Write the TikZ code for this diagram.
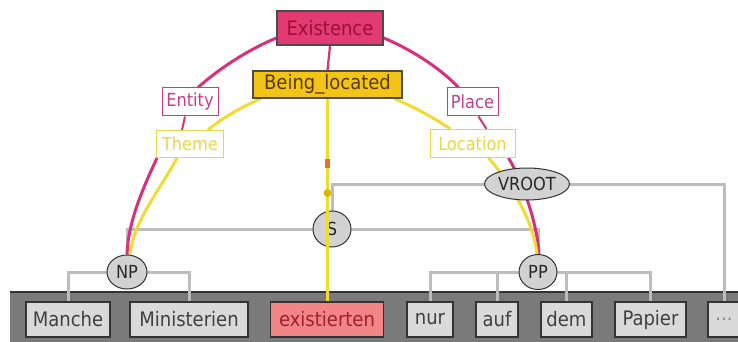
\documentclass[tikz,border=0pt]{standalone}
\usepackage{fontspec}
\setmainfont{DejaVu Sans Condensed}
\usetikzlibrary{shapes.geometric,calc}
\pgfdeclarelayer{bg}
\pgfdeclarelayer{lines}
\pgfsetlayers{bg,lines,main}
\definecolor{pinkc}{HTML}{D8307A}
\definecolor{yelc}{HTML}{F0DC30}
\definecolor{treec}{HTML}{BDBDBD}
\definecolor{bandc}{HTML}{7A7A7A}
\definecolor{wordfill}{HTML}{DADADA}
\definecolor{exfill}{HTML}{E33A73}
\definecolor{extext}{HTML}{9A1038}
\definecolor{blfill}{HTML}{F2C417}
\definecolor{bltext}{HTML}{5A3A00}
\definecolor{rolepink}{HTML}{C83C8C}
\definecolor{roleyel}{HTML}{E6D84A}
\definecolor{catfill}{HTML}{D2D2D2}
\definecolor{verbfill}{HTML}{F28585}
\definecolor{verbtext}{HTML}{A02030}
\definecolor{markor}{HTML}{E8702C}
\definecolor{markye}{HTML}{D8B800}
\tikzset{
  word/.style={draw=black!80, line width=1.3pt, fill=wordfill, text=black!75,
    minimum height=35pt, inner sep=0pt, font=\fontsize{20}{21}\selectfont},
  verb/.style={word, fill=verbfill, text=verbtext},
  framebox/.style={draw=black!70, line width=1.2pt, inner sep=0pt,
    font=\fontsize{20}{21}\selectfont},
  rolebox/.style={draw, fill=white, line width=1pt, inner sep=0pt,
    font=\fontsize{18}{19}\selectfont},
  pinkrole/.style={rolebox, draw=rolepink, text=rolepink},
  yelrole/.style={rolebox, draw=roleyel, text=roleyel},
  cat/.style={ellipse, draw=black!80, line width=1pt, fill=catfill, text=black!85,
    inner sep=0pt, font=\fontsize{18}{19}\selectfont},
  tree/.style={draw=treec, line width=3pt},
  pinkline/.style={draw=pinkc, line width=3pt},
  yelline/.style={draw=yelc, line width=3pt},
  markbox/.style={fill=markor, minimum width=5pt, minimum height=9pt, inner sep=0pt},
  markdot/.style={circle, fill=markye, minimum size=8pt, inner sep=0pt},
}
\begin{document}
\begin{tikzpicture}[x=1pt,y=-1pt]
\useasboundingbox (0,0) rectangle (738,342);
% background and band of words
\begin{pgfonlayer}{bg}
\fill[white] (0,0) rectangle (738,342);
\fill[bandc] (10,292) rectangle (745,345);
\draw[black!80, line width=2pt] (10,292) -- (745,292);
\end{pgfonlayer}
% words
\node[word, minimum width=84pt]  (w1) at (68,319.5)  {Manche};
\node[word, minimum width=118pt] (w2) at (189,319.5) {Ministerien};
\node[verb, minimum width=113pt] (w3) at (327,319.5) {existierten};
\node[word, minimum width=46pt]  (w4) at (430,319.5) {nur};
\node[word, minimum width=42pt]  (w5) at (497,319.5) {auf};
\node[word, minimum width=51pt]  (w6) at (566.5,319.5) {dem};
\node[word, minimum width=71pt]  (w7) at (650.5,319.5) {Papier};
\node[word, minimum width=32pt, text=black!45] (w8) at (724,319.5) {...};
% syntactic categories
\node[cat, minimum width=40pt, minimum height=34pt] (NP) at (127,272) {NP};
\node[cat, minimum width=38pt, minimum height=35pt] (PP) at (538,272) {PP};
\node[cat, minimum width=38pt, minimum height=36pt] (S) at (332,229) {S};
\node[cat, minimum width=85pt, minimum height=32pt] (VR) at (527,184) {VROOT};
% frames and roles
\node[framebox, fill=exfill, text=extext, minimum width=106pt, minimum height=34pt] (Ex) at (330,28) {Existence};
\node[framebox, fill=blfill, text=bltext, minimum width=149pt, minimum height=27pt] (BL) at (327.5,84.5) {Being\_located};
\node[pinkrole, minimum width=56pt, minimum height=28pt] (En) at (190,102) {Entity};
\node[pinkrole, minimum width=51pt, minimum height=28pt] (Pl) at (472.5,102) {Place};
\node[yelrole, minimum width=67pt, minimum height=27pt] (Th) at (190,144) {Theme};
\node[yelrole, minimum width=85pt, minimum height=28pt] (Lo) at (472.5,143.5) {Location};
% tree edges
\begin{pgfonlayer}{bg}
\draw[tree] (NP.center) -| (w1.north);
\draw[tree] (NP.center) -| (w2.north);
\draw[tree] (PP.center) -| (w4.north);
\draw[tree] (PP.center) -| (w5.north);
\draw[tree] (PP.center) -| (w6.north);
\draw[tree] (PP.center) -| (w7.north);
\draw[tree] (S.center) -| (NP.north);
\draw[tree] (S.center) -| (PP.north);
\draw[tree] (VR.center) -| (S.north);
\draw[tree] (VR.center) -| (w8.north);
\end{pgfonlayer}
% frame-semantic edges
\begin{pgfonlayer}{lines}
\draw[pinkline, line width=2.2pt] (Ex.south) -- (BL.north);
\draw[pinkline] ($(Ex.west)+(0,10)$) .. controls (252,48) and (222,66) .. ($(En.north)+(8,0)$);
\draw[pinkline] ($(Ex.east)+(0,10)$) .. controls (408,48) and (438,66) .. ($(Pl.north)+(-14,0)$);
\draw[pinkline, line width=2pt] ($(En.south)+(-5,0)$) -- ($(Th.north)+(-8,0)$);
\draw[pinkline, line width=2pt] ($(Pl.south)+(6,0)$) -- ($(Lo.north)+(14,0)$);
\draw[pinkline] ($(Th.south)+(-33,0)$) .. controls (143,188) and (128,222) .. (NP.north);
\draw[pinkline] ($(Lo.south)+(36,0)$) .. controls (522,180) and (537,222) .. ($(PP.north)+(1,0)$);
\draw[yelline] ($(BL.south west)+(8,0)$) .. controls (240,108) and (222,118) .. ($(Th.north)+(18,0)$);
\draw[yelline] ($(BL.south east)+(-8,0)$) .. controls (416,108) and (434,118) .. ($(Lo.north)+(-22,0)$);
\draw[yelline] ($(Th.south)+(-13,0)$) .. controls (160,190) and (134,220) .. ($(NP.north)+(3,0)$);
\draw[yelline] ($(Lo.south)+(16,0)$) .. controls (508,180) and (533,218) .. ($(PP.north)+(-1,0)$);
\end{pgfonlayer}
% the target line from the frame down to the verb, drawn over S
\draw[yelline, line width=2.5pt] (BL.south) -- (BL.south |- w3.north);
\node[markbox] (m1) at (BL.south |- 0,163) {};
\node[markdot] (m2) at (BL.south |- 0,193) {};
\end{tikzpicture}
\end{document}
